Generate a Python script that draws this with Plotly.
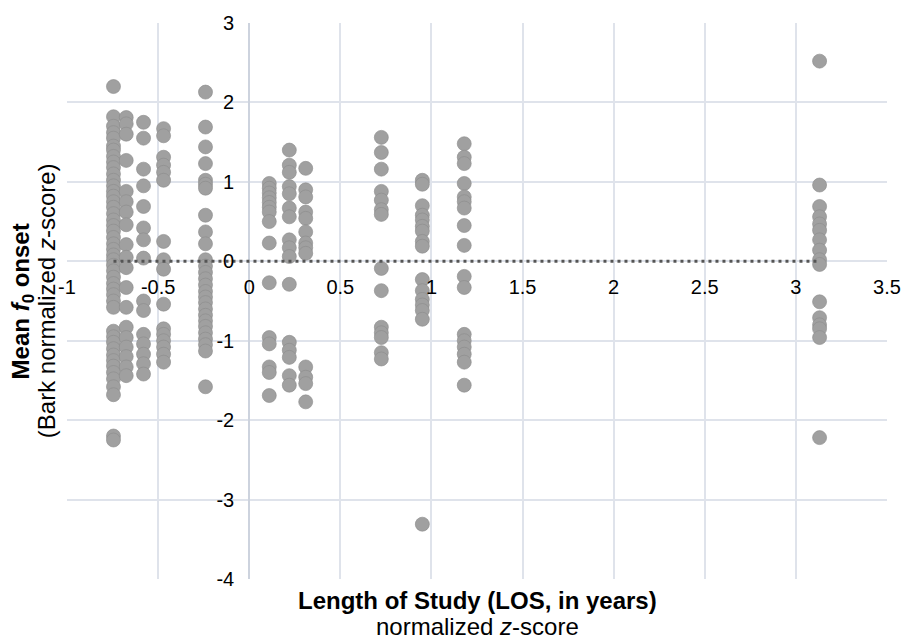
import plotly.graph_objects as go

# LOS (normalized z-score) for each group of speakers
los_a1 = -0.745
los_a2 = -0.675
los_b = -0.58
los_c = -0.47
los_d = -0.24
los_e = 0.11
los_f = 0.22
los_g = 0.31
los_h = 0.725
los_i = 0.95
los_j = 1.18
los_k = 3.13

# Mean f0 onset (Bark normalized z-score) values per group
onset_a1 = [2.20, 1.82, 1.70, 1.62, 1.55, 1.45, 1.40, 1.32, 1.25, 1.18, 1.10, 1.02, 0.95,
            0.88, 0.82, 0.75, 0.68, 0.60, 0.52, 0.45, 0.38, 0.30, 0.22, 0.15, 0.08, 0.02,
            -0.05, -0.12, -0.20, -0.28, -0.35, -0.42, -0.50, -0.58, -0.88, -0.95, -1.02,
            -1.10, -1.18, -1.25, -1.32, -1.40, -1.48, -1.58, -1.68, -2.20, -2.25]
onset_a2 = [1.81, 1.73, 1.60, 1.27, 0.88, 0.75, 0.62, 0.46, 0.21, 0.05, -0.08, -0.33,
            -0.58, -0.83, -0.96, -1.08, -1.20, -1.33, -1.44]
onset_b = [1.75, 1.55, 1.16, 0.95, 0.69, 0.42, 0.27, 0.04, -0.50, -0.62, -0.92, -1.04,
           -1.17, -1.29, -1.42]
onset_c = [1.67, 1.58, 1.31, 1.21, 1.12, 1.02, 0.25, 0.02, -0.10, -0.54, -0.85, -0.92,
           -1.00, -1.08, -1.17, -1.27]
onset_d = [2.13, 1.69, 1.44, 1.23, 1.02, 0.97, 0.92, 0.58, 0.37, 0.22, 0.02, -0.06, -0.14,
           -0.22, -0.30, -0.38, -0.45, -0.52, -0.60, -0.68, -0.75, -0.82, -0.90, -0.98,
           -1.05, -1.13, -1.58]
onset_e = [0.98, 0.92, 0.86, 0.80, 0.74, 0.68, 0.62, 0.50, 0.23, -0.27, -0.96, -1.04,
           -1.33, -1.40, -1.69]
onset_f = [1.40, 1.21, 1.12, 0.94, 0.85, 0.67, 0.56, 0.27, 0.17, 0.06, -0.29, -1.02,
           -1.12, -1.21, -1.44, -1.56]
onset_g = [1.17, 0.90, 0.81, 0.62, 0.54, 0.37, 0.23, 0.17, 0.10, -1.33, -1.46, -1.54, -1.77]
onset_h = [1.56, 1.37, 1.16, 0.88, 0.77, 0.65, 0.59, -0.09, -0.37, -0.83, -0.90, -0.96,
           -1.15, -1.23]
onset_i = [1.02, 0.97, 0.70, 0.58, 0.52, 0.44, 0.38, 0.25, 0.19, -0.23, -0.37, -0.48,
           -0.55, -0.62, -0.73, -3.31]
onset_j = [1.48, 1.31, 1.23, 0.98, 0.81, 0.75, 0.67, 0.45, 0.20, -0.19, -0.33, -0.92,
           -1.00, -1.08, -1.17, -1.27, -1.56]
onset_k = [2.52, 0.96, 0.69, 0.56, 0.47, 0.39, 0.27, 0.14, 0.02, -0.04, -0.51, -0.71,
           -0.80, -0.85, -0.96, -2.22]

x_ticks = [-1, -0.5, 0, 0.5, 1, 1.5, 2, 2.5, 3, 3.5]
x_tick_labels = ["-1", "-0.5", "0", "0.5", "1", "1.5", "2", "2.5", "3", "3.5"]
y_ticks = [3, 2, 1, 0, -1, -2, -3, -4]
y_tick_labels = ["3", "2", "1", "0", "-1", "-2", "-3", "-4"]

mean_line_x = [los_a1, los_k]
mean_line_y = [0, 0]

groups = [
    (los_a1, onset_a1), (los_a2, onset_a2), (los_b, onset_b), (los_c, onset_c),
    (los_d, onset_d), (los_e, onset_e), (los_f, onset_f), (los_g, onset_g),
    (los_h, onset_h), (los_i, onset_i), (los_j, onset_j), (los_k, onset_k),
]
xs, ys = [], []
for gx, gy in groups:
    xs += [gx] * len(gy)
    ys += gy

FONT = "Liberation Sans, Arial, Helvetica, sans-serif"

fig = go.Figure()
fig.add_trace(go.Scatter(
    x=xs, y=ys, mode="markers",
    marker=dict(size=14, color="rgb(160,160,160)",
                line=dict(width=0.8, color="rgba(140,140,140,0.8)")),
    showlegend=False, hoverinfo="skip",
))
fig.add_trace(go.Scatter(
    x=mean_line_x, y=mean_line_y, mode="lines",
    line=dict(color="#555555", width=3, dash="3px,4px"),
    showlegend=False, hoverinfo="skip",
))

L, R, T, B = 67, 19, 20, 61
pw = 913 - L - R
ph = 640 - T - B

def px_x(p):
    return (p - L) / pw

def px_y(p):
    return (640 - B - p) / ph

grid = "#dfe3eb"
fig.update_layout(
    width=913, height=640,
    margin=dict(l=L, r=R, t=T, b=B, pad=0),
    paper_bgcolor="white", plot_bgcolor="white",
    font=dict(family=FONT, size=20, color="black"),
    xaxis=dict(
        range=[-1, 3.5], tickvals=x_ticks, ticktext=x_tick_labels,
        showgrid=True, gridcolor=grid, gridwidth=1.5,
        zeroline=True, zerolinecolor="#cdd3de", zerolinewidth=1.5,
        showline=False, ticks="", anchor="free", position=4 / 7,
        ticklabelstandoff=12,
        tickfont=dict(size=20, family=FONT, color="black"),
        fixedrange=True,
    ),
    yaxis=dict(
        range=[-4, 3], tickvals=y_ticks, ticktext=y_tick_labels,
        showgrid=True, gridcolor=grid, gridwidth=1.5,
        zeroline=True, zerolinecolor=grid, zerolinewidth=1.5,
        showline=False, ticks="", anchor="free", position=1 / 4.5,
        ticklabelstandoff=15,
        tickfont=dict(size=20, family=FONT, color="black"),
        fixedrange=True,
    ),
    annotations=[
        dict(text="<b>Length of Study (LOS, in years)</b>", xref="paper", yref="paper",
             x=0.5, y=px_y(601), xanchor="center", yanchor="middle",
             showarrow=False, font=dict(size=24, family=FONT, color="black")),
        dict(text="normalized <i>z</i>-score", xref="paper", yref="paper",
             x=0.5, y=px_y(627), xanchor="center", yanchor="middle",
             showarrow=False, font=dict(size=24, family=FONT, color="black")),
        dict(text="<b>Mean <i>f</i><sub>0</sub> onset</b>", xref="paper", yref="paper",
             x=px_x(22), y=0.5, xanchor="center", yanchor="middle", textangle=-90,
             showarrow=False, font=dict(size=24, family=FONT, color="black")),
        dict(text="(Bark normalized <i>z</i>-score)", xref="paper", yref="paper",
             x=px_x(46), y=0.5, xanchor="center", yanchor="middle", textangle=-90,
             showarrow=False, font=dict(size=24, family=FONT, color="black")),
    ],
)
fig.write_html("out.html")
